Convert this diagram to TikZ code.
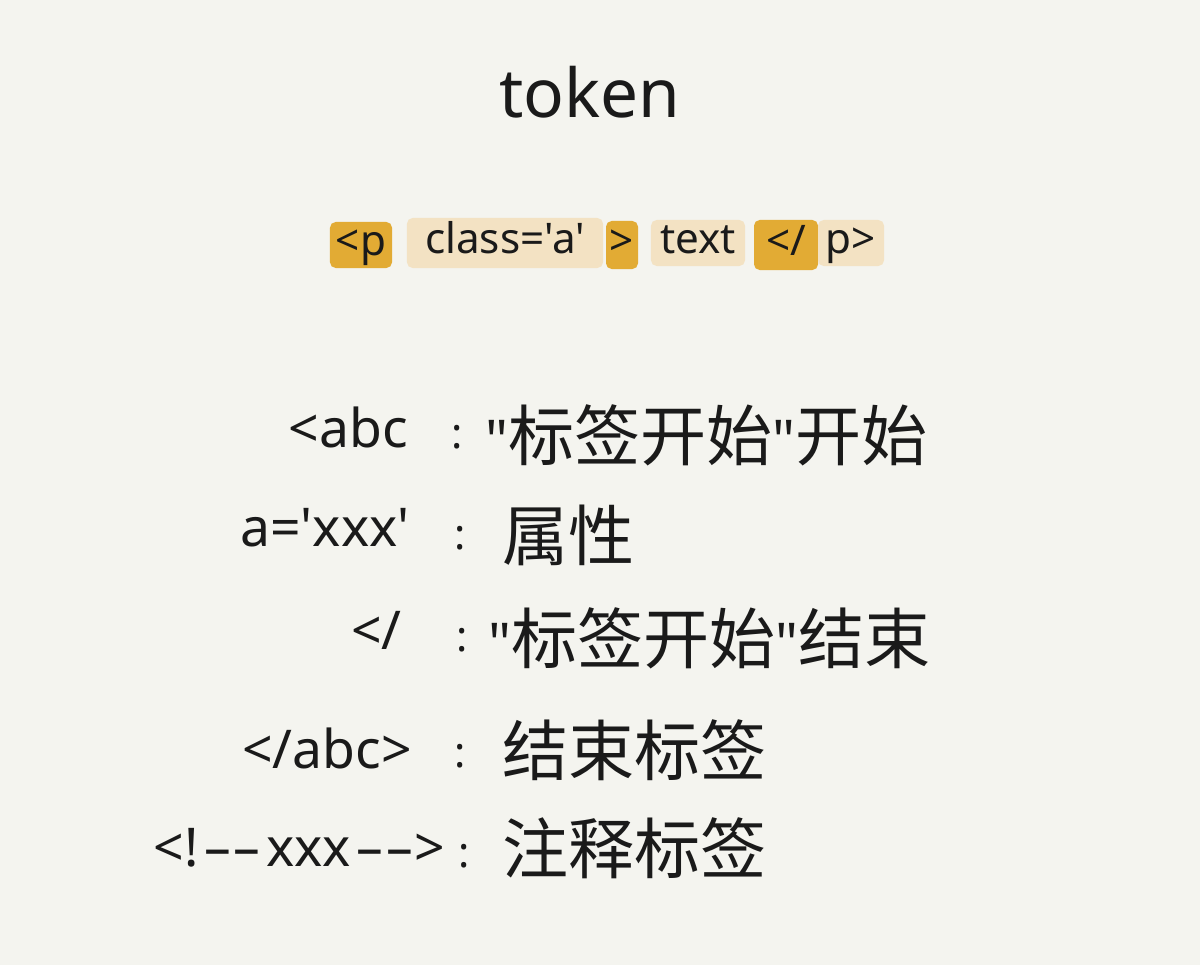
\documentclass[tikz,border=0pt]{standalone}
\usepackage{fontspec}
\setmainfont{Noto Sans CJK SC}
\newfontfamily\lat{Noto Sans}
\definecolor{bgc}{HTML}{F4F4EF}
\definecolor{lightc}{HTML}{F3E2C3}
\definecolor{darkc}{HTML}{E2AB34}
\definecolor{inkc}{HTML}{1A1A1A}
\tikzset{
  hbox/.style={rounded corners=4pt, inner sep=0pt, text=inkc, text height=21pt, text depth=6pt, font=\lat\fontsize{30}{32}\selectfont},
  lightbox/.style={hbox, fill=lightc},
  darkbox/.style={hbox, fill=darkc},
  keytxt/.style={anchor=east, text=inkc, inner sep=0pt, font=\lat\fontsize{38}{42}\selectfont},
  coltxt/.style={text=inkc, inner sep=0pt, font=\lat\fontsize{30}{34}\selectfont},
  valtxt/.style={anchor=west, text=inkc, inner sep=0pt, font=\fontsize{47}{50}\selectfont},
}
\newcommand{\qm}{{\lat\fontsize{40}{40}\selectfont"}}
\begin{document}
\begin{tikzpicture}[x=0.025cm,y=-0.025cm]
\fill[bgc] (0,0) rectangle (1200,965);
\useasboundingbox (0,0) rectangle (1200,965);
% title
\node[text=inkc, font=\lat\fontsize{48}{52}\selectfont] (title) at (590,92) {token};
% highlighted tokens
\node[darkbox, minimum width=1.55cm, minimum height=1.15cm] (b1) at (361,245) {<p};
\node[lightbox, minimum width=4.9cm, minimum height=1.25cm] (b2) at (505,243) {class='a'};
\node[darkbox, minimum width=0.8cm, minimum height=1.2cm] (b3) at (622,245) {>};
\node[lightbox, minimum width=2.35cm, minimum height=1.15cm] (b4) at (698,243) {text};
\node[darkbox, minimum width=1.6cm, minimum height=1.25cm] (b5) at (786,245) {</};
\node[lightbox, minimum width=1.65cm, minimum height=1.15cm] (b6) at (851,243) {p>};
% rows
\node[keytxt] (k1) at (408,427) {<abc};
\node[coltxt] (c1) at (457,437) {:};
\node[valtxt] (v1) at (485,435) {\qm 标签开始\qm 开始};
\node[keytxt] (k2) at (410,528) {a='xxx'};
\node[coltxt] (c2) at (460,538) {:};
\node[valtxt] (v2) at (502,535) {属性};
\node[keytxt] (k3) at (402,630) {</};
\node[coltxt] (c3) at (462,640) {:};
\node[valtxt] (v3) at (488,638) {\qm 标签开始\qm 结束};
\node[keytxt] (k4) at (412,748) {</abc>};
\node[coltxt] (c4) at (460,756) {:};
\node[valtxt] (v4) at (502,750) {结束标签};
\node[keytxt] (k5) at (445,848) {<!\hspace{4pt}–\hspace{2pt}–\hspace{4pt}xxx\hspace{4pt}–\hspace{2pt}–\hspace{1pt}>};
\node[coltxt] (c5) at (464,856) {:};
\node[valtxt] (v5) at (502,848) {注释标签};
\end{tikzpicture}
\end{document}
